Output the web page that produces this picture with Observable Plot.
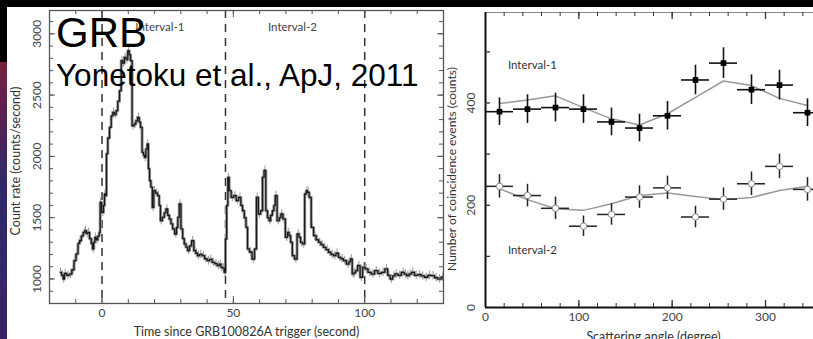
<!DOCTYPE html>
<html><head><meta charset="utf-8">
<script src="https://cdn.jsdelivr.net/npm/d3@7"></script>
<script src="https://cdn.jsdelivr.net/npm/@observablehq/plot@0.6"></script>
<style>
html,body{margin:0;padding:0;width:813px;height:339px;overflow:hidden;background:#fff;position:relative}
#topband{position:absolute;left:0;top:0;width:813px;height:7px;background:#000;overflow:hidden;z-index:5}
#title{position:absolute;left:465px;top:-46px;font:bold 50px "Liberation Sans",Arial,sans-serif;line-height:1;color:#fff;white-space:nowrap}
#leftblack{position:absolute;left:0;top:0;width:7px;height:62px;background:#000;z-index:5}
#galaxy{position:absolute;left:0;top:62px;width:7px;height:277px;z-index:5;background:linear-gradient(#7a1e3e,#62204e 15%,#2e2a6a 45%,#34266e 75%,#3a2064)}
#lp{position:absolute;left:0;top:0;width:450px;height:339px}
#rp{position:absolute;left:440px;top:0;width:390px;height:339px}
#lp svg,#rp svg{max-width:none !important}
.ov{position:absolute;font-family:"Liberation Sans",Arial,sans-serif;color:#000;white-space:nowrap;line-height:1;z-index:4}
</style></head><body>
<div id="lp"></div>
<div id="rp"></div>
<div id="topband"><div id="title">Polarization</div></div>
<div id="leftblack"></div>
<div id="galaxy"></div>
<div class="ov" style="left:56px;top:11.5px;font-size:42px">GRB</div>
<div class="ov" style="left:56px;top:60.4px;font-size:31.5px">Yonetoku et al., ApJ, 2011</div>
<script>
// ---------- Light curve (left panel) ----------
const lcTime = [
 -15.8,-15.0,-14.6,-14.0,-13.0,-12.0,-11.0,-10.3,-9.5,-8.8,
 -8.3,-7.5,-6.8,-6.3,-5.7,-5.1,-4.4,-3.8,-3.4,-2.9,
 -2.5,-1.9,-1.3,-0.8,-0.6,0.3,0.8,1.1,1.5,1.9,
 2.5,3.2,3.8,4.4,5.0,5.7,6.3,7.0,7.6,8.2,
 8.8,9.5,10.1,10.6,11.1,11.8,12.6,13.2,13.9,14.4,
 14.9,15.6,16.0,16.4,17.0,17.4,17.9,18.3,18.9,19.4,
 20.0,20.8,21.5,22.0,22.5,23.4,24.0,24.7,25.3,25.9,
 26.6,27.2,28.1,28.6,29.1,29.7,30.4,31.0,31.6,32.3,
 32.9,33.7,34.5,35.4,36.0,36.7,37.6,38.6,39.5,40.5,
 41.4,42.4,43.4,44.3,45.0,45.6,46.2,46.8,47.2,47.7,
 48.1,48.7,49.6,50.6,51.5,52.5,53.2,53.8,54.5,55.1,
 55.7,56.6,57.6,58.5,59.1,59.9,60.8,61.4,62.0,62.7,
 63.3,63.9,64.5,65.2,65.7,66.2,67.1,67.8,68.4,69.3,
 70.3,70.9,71.5,72.1,72.8,73.8,74.7,75.3,75.9,76.8,
 77.5,78.0,78.5,79.2,80.1,81.0,82.0,82.9,83.8,84.8,
 85.7,86.7,87.6,88.6,89.5,90.5,91.4,92.4,93.7,94.3,
 94.9,95.6,96.2,96.8,97.8,98.7,99.7,100.6,101.9,103.1,
 104.4,105.7,107.0,108.3,109.2,110.2,111.1,112.0,113.3,114.6,
 115.5,116.4,117.3,118.3,119.6,120.9,122.1,123.4,124.7,126.0,
 127.2,128.5,129.7
];
const lcRate = [
 1054,1030,1000,1045,1030,1040,1075,1150,1204,1290,
 1312,1350,1380,1394,1370,1380,1330,1290,1245,1300,
 1340,1320,1350,1380,1625,1543,1600,1693,1680,2022,
 2150,2237,2330,2359,2340,2373,2450,2536,2781,2760,
 2808,2790,2862,2830,2781,2250,2264,2290,2318,2280,
 2237,2033,2010,1992,2060,2101,1900,1802,1750,1584,
 1720,1700,1680,1600,1476,1503,1540,1571,1520,1490,
 1450,1408,1367,1420,1503,1612,1408,1330,1286,1260,
 1231,1270,1312,1231,1210,1190,1200,1190,1165,1150,
 1160,1136,1125,1109,1120,1095,1090,1054,1326,1600,
 1829,1720,1666,1680,1640,1666,1600,1557,1500,1421,
 1245,1220,1163,1245,1666,1530,1557,1829,1885,1557,
 1500,1476,1520,1557,1600,1680,1476,1500,1530,1490,
 1340,1380,1354,1300,1190,1163,1367,1340,1299,1286,
 1693,1720,1707,1666,1421,1354,1320,1299,1280,1258,
 1240,1218,1200,1190,1210,1177,1165,1150,1122,1140,
 1163,1041,1050,1068,1109,1014,1095,1082,1054,1040,
 1068,1045,1054,1082,1030,1000,1025,1041,1030,1054,
 1040,1027,1040,1054,1030,1036,1025,1014,1030,1027,
 1010,1000,1014
];
const lcErr = 35;
const dashTimes = [0, 47, 100];
const leftXTicks = [0, 50, 100];
const leftYTicks = [1000, 1500, 2000, 2500, 3000];
const leftIntervalNames = ["Interval-1", "Interval-2"];
const leftIntervalTimes = [22, 72.5];
const leftXLabel = "Time since GRB100826A trigger (second)";
const leftYLabel = "Count rate (counts/second)";

// ---------- Modulation curves (right panel) ----------
const angles = [15,45,75,105,135,165,195,225,255,285,315,345];
const int1Counts = [383,388,391,388,363,351,375,445,478,426,435,381];
const int1Err    = [27,28,28,28,27,27,28,29,30,29,29,27];
const int1Model  = [399,406,414,391,369,357,379,411,443,434,409,395];
const int2Counts = [237,219,194,159,182,216,234,177,212,242,276,231];
const int2Err    = [23,22,22,20,21,22,23,21,22,23,24,23];
const int2Model  = [232,211,193,190,203,219,224,217,211,215,229,237];
const rightXTicks = [0, 100, 200, 300];
const rightYTicks = [0, 200, 400];
const rightIntervalNames = ["Interval-1", "Interval-2"];
const rightIntervalPos = [[24, 473], [24, 112]];
const rightXLabel = "Scattering angle (degree)";
const rightYLabel = "Number of coincidence events (counts)";

const FONT = "Lato, 'Open Sans', sans-serif";
const idx = d3.range(lcTime.length);

// left panel geometry
const W1 = 450, H1 = 339, ml1 = 49, mr1 = 7, mt1 = 10, mb1 = 36;
const ph1 = H1 - mt1 - mb1, pw1 = W1 - ml1 - mr1;
const minorX1 = d3.range(-10, 130, 10);
const minorY1 = d3.range(900, 3190, 100);

const left = Plot.plot({
  width: W1, height: H1,
  marginLeft: ml1, marginRight: mr1, marginTop: mt1, marginBottom: mb1,
  x: {domain: [-20, 130], axis: null},
  y: {domain: [800, 3190], axis: null},
  style: {background: "transparent", overflow: "visible", maxWidth: "none"},
  marks: [
    Plot.ruleX(dashTimes, {x: d => d, stroke: "#333", strokeWidth: 1.5, strokeDasharray: "8,6"}),
    Plot.ruleX(idx, {x: i => lcTime[i], y1: i => lcRate[i] - lcErr, y2: i => lcRate[i] + lcErr, stroke: "#999", strokeWidth: 1}),
    Plot.line(idx, {x: i => lcTime[i], y: i => lcRate[i], curve: "step", stroke: "#9a9a9a", strokeWidth: 3}),
    Plot.line(idx, {x: i => lcTime[i], y: i => lcRate[i], curve: "step", stroke: "#1a1a1a", strokeWidth: 1.3}),
    Plot.tickX(minorX1, {x: d => d, insetTop: ph1 - 4, stroke: "#555"}),
    Plot.tickX(minorX1, {x: d => d, insetBottom: ph1 - 4, stroke: "#555"}),
    Plot.tickX(leftXTicks, {x: d => d, insetTop: ph1 - 7, stroke: "#555"}),
    Plot.tickX(leftXTicks, {x: d => d, insetBottom: ph1 - 7, stroke: "#555"}),
    Plot.tickY(minorY1, {y: d => d, insetRight: pw1 - 4, stroke: "#555"}),
    Plot.tickY(minorY1, {y: d => d, insetLeft: pw1 - 4, stroke: "#555"}),
    Plot.tickY(leftYTicks, {y: d => d, insetRight: pw1 - 6, stroke: "#555"}),
    Plot.tickY(leftYTicks, {y: d => d, insetLeft: pw1 - 6, stroke: "#555"}),
    Plot.frame({stroke: "#555", strokeWidth: 1.3}),
    Plot.text(leftXTicks, {x: d => d, text: d => String(d), frameAnchor: "bottom", dy: 10, lineAnchor: "middle", fontFamily: FONT, fontSize: 12, fill: "#444"}),
    Plot.text(leftYTicks, {y: d => d, text: d => String(d), frameAnchor: "left", dx: -12, rotate: -90, textAnchor: "middle", lineAnchor: "middle", fontFamily: FONT, fontSize: 12, fill: "#444"}),
    Plot.text([leftXLabel], {text: d => d, frameAnchor: "bottom", dy: 28, lineAnchor: "middle", fontFamily: FONT, fontSize: 12.5, fill: "#333"}),
    Plot.text([leftYLabel], {text: d => d, frameAnchor: "left", dx: -34, dy: 4, rotate: -90, textAnchor: "middle", lineAnchor: "middle", fontFamily: FONT, fontSize: 12.5, fill: "#333"}),
    Plot.text(leftIntervalNames, {x: (d, i) => leftIntervalTimes[i], y: 3050, text: d => d, fontFamily: FONT, fontSize: 11.5, fill: "#444"})
  ]
});
document.getElementById("lp").appendChild(left);

// right panel geometry
const W2 = 390, H2 = 339, ml2 = 45, mr2 = 9, mt2 = 12, mb2 = 32;
const ph2 = H2 - mt2 - mb2, pw2 = W2 - ml2 - mr2;
const minorX2 = d3.range(20, 360, 20);
const minorY2 = d3.range(100, 577, 100);

const right = Plot.plot({
  width: W2, height: H2,
  marginLeft: ml2, marginRight: mr2, marginTop: mt2, marginBottom: mb2,
  x: {domain: [0, 360], axis: null},
  y: {domain: [0, 577], axis: null},
  style: {background: "transparent", overflow: "visible", maxWidth: "none"},
  marks: [
    Plot.frame({stroke: "#888", strokeWidth: 1}),
    Plot.ruleX([0], {stroke: "#111", strokeWidth: 2}),
    Plot.ruleY([0], {stroke: "#111", strokeWidth: 2}),
    Plot.tickX(minorX2, {x: d => d, insetTop: ph2 - 4, stroke: "#333"}),
    Plot.tickX(minorX2, {x: d => d, insetBottom: ph2 - 4, stroke: "#333"}),
    Plot.tickX(rightXTicks.slice(1), {x: d => d, insetTop: ph2 - 7, stroke: "#333", strokeWidth: 1.3}),
    Plot.tickX(rightXTicks.slice(1), {x: d => d, insetBottom: ph2 - 7, stroke: "#333", strokeWidth: 1.3}),
    Plot.tickY(minorY2, {y: d => d, insetRight: pw2 - 5, stroke: "#333", strokeWidth: 1.3}),
    // model curves
    Plot.line(angles, {x: d => d, y: (d, i) => int1Model[i], stroke: "#999", strokeWidth: 1.5}),
    Plot.line(angles, {x: d => d, y: (d, i) => int2Model[i], stroke: "#999", strokeWidth: 1.5}),
    // interval-1 error bars + markers
    Plot.ruleX(angles, {x: d => d, y1: (d, i) => int1Counts[i] - int1Err[i], y2: (d, i) => int1Counts[i] + int1Err[i], stroke: "#111", strokeWidth: 1.6}),
    Plot.ruleY(angles, {y: (d, i) => int1Counts[i], x1: d => d - 15, x2: d => d + 15, stroke: "#111", strokeWidth: 1.6}),
    Plot.dot(angles, {x: d => d, y: (d, i) => int1Counts[i], symbol: "square", r: 3.2, fill: "#000", stroke: "none"}),
    // interval-2 error bars + markers
    Plot.ruleX(angles, {x: d => d, y1: (d, i) => int2Counts[i] - int2Err[i], y2: (d, i) => int2Counts[i] + int2Err[i], stroke: "#222", strokeWidth: 1.5}),
    Plot.ruleY(angles, {y: (d, i) => int2Counts[i], x1: d => d - 15, x2: d => d + 15, stroke: "#222", strokeWidth: 1.5}),
    Plot.dot(angles, {x: d => d, y: (d, i) => int2Counts[i], r: 3.2, fill: "#fff", stroke: "#888", strokeWidth: 1}),
    // labels
    Plot.text(rightXTicks, {x: d => d, text: d => String(d), frameAnchor: "bottom", dy: 10, lineAnchor: "middle", fontFamily: FONT, fontSize: 12, fill: "#444"}),
    Plot.text(rightYTicks, {y: d => d, text: d => String(d), frameAnchor: "left", dx: -14, rotate: -90, textAnchor: "middle", lineAnchor: "middle", fontFamily: FONT, fontSize: 12, fill: "#444"}),
    Plot.text([rightXLabel], {text: d => d, frameAnchor: "bottom", dy: 29, lineAnchor: "middle", fontFamily: FONT, fontSize: 12.5, fill: "#333"}),
    Plot.text([rightYLabel], {text: d => d, frameAnchor: "left", dx: -33, dy: 9, rotate: -90, textAnchor: "middle", lineAnchor: "middle", fontFamily: FONT, fontSize: 12, fill: "#333"}),
    Plot.text(rightIntervalNames, {x: (d, i) => rightIntervalPos[i][0], y: (d, i) => rightIntervalPos[i][1], text: d => d, textAnchor: "start", fontFamily: FONT, fontSize: 11.5, fill: "#333"})
  ]
});
document.getElementById("rp").appendChild(right);
</script>
</body></html>
